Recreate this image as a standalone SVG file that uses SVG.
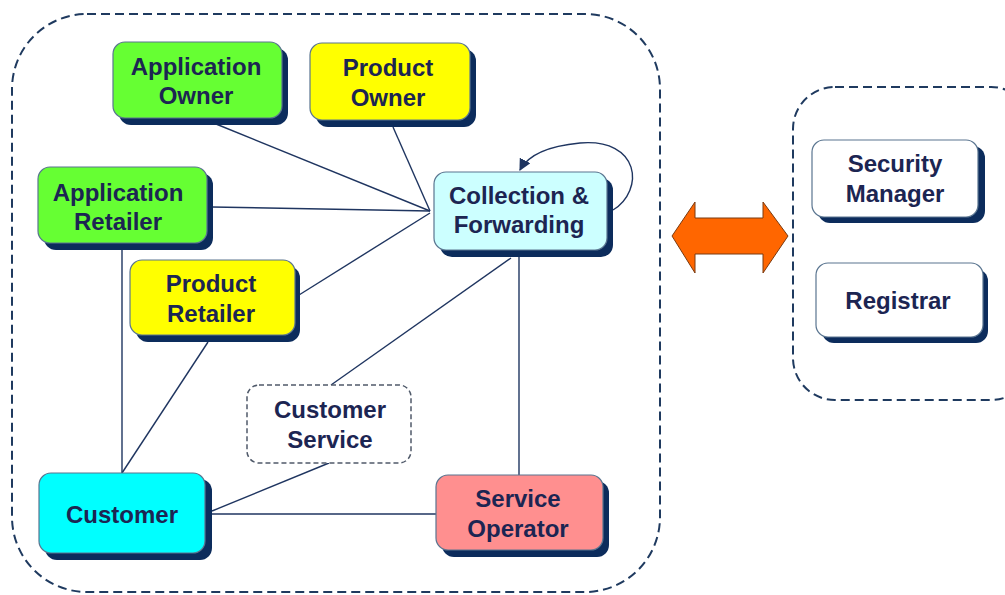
<svg xmlns="http://www.w3.org/2000/svg" width="1005" height="595" viewBox="0 0 1005 595">
<defs>
<style>
.sh{fill:#0C2C5C}
.bx{stroke:#5A7590;stroke-width:1.2}
.t{font-family:"Liberation Sans",Arial,sans-serif;font-size:24px;font-weight:bold;fill:#1C2552;text-anchor:middle}
.cn{fill:none;stroke:#1F3560;stroke-width:1.4}
.cont{fill:none;stroke:#1F3A5F;stroke-width:2;stroke-dasharray:9 5}
</style>
<marker id="ah" viewBox="0 0 10 10" refX="9" refY="5" markerWidth="12" markerHeight="12" orient="auto" markerUnits="userSpaceOnUse">
<path d="M0,0 L10,5 L0,10 z" fill="#1F3560"/>
</marker>
</defs>
<rect width="1005" height="595" fill="#FFFFFF"/>
<g id="containers">
<rect class="cont" x="12" y="14" width="648" height="578" rx="75" ry="75"/>
<rect class="cont" x="793" y="87" width="240" height="313" rx="42" ry="42"/>
</g>
<g id="connectors">
<line class="cn" x1="216" y1="124" x2="430" y2="211"/>
<line class="cn" x1="393" y1="127" x2="430" y2="211"/>
<line class="cn" x1="212" y1="207" x2="430" y2="211"/>
<line class="cn" x1="299" y1="295" x2="430" y2="213"/>
<line class="cn" x1="511" y1="258" x2="331" y2="385"/>
<line class="cn" x1="519" y1="257" x2="519" y2="475"/>
<line class="cn" x1="122" y1="250" x2="122" y2="473"/>
<line class="cn" x1="208" y1="342" x2="122" y2="473"/>
<line class="cn" x1="329" y1="463" x2="212" y2="511"/>
<line class="cn" x1="212" y1="514" x2="436" y2="514"/>
<path class="cn" d="M613,210 C645,190 640,138 580,143 C548,146 528,155 520,170" marker-end="url(#ah)"/>
</g>
<g id="app-owner">
<rect class="sh" x="119" y="48" width="169" height="77" rx="12"/>
<rect class="bx" x="113" y="42" width="169" height="76" rx="12" fill="#66FF33"/>
<text class="t" x="196" y="75">Application</text>
<text class="t" x="196" y="104">Owner</text>
</g>
<g id="product-owner">
<rect class="sh" x="316" y="49" width="160" height="78" rx="12"/>
<rect class="bx" x="310" y="43" width="160" height="77" rx="12" fill="#FFFF00"/>
<text class="t" x="388" y="76">Product</text>
<text class="t" x="388" y="106">Owner</text>
</g>
<g id="app-retailer">
<rect class="sh" x="44" y="173" width="169" height="77" rx="12"/>
<rect class="bx" x="38" y="167" width="169" height="76" rx="12" fill="#66FF33"/>
<text class="t" x="118" y="201">Application</text>
<text class="t" x="118" y="230">Retailer</text>
</g>
<g id="collection-forwarding">
<rect class="sh" x="440" y="178" width="173" height="79" rx="12"/>
<rect class="bx" x="434" y="172" width="173" height="78" rx="12" fill="#CCFFFF"/>
<text class="t" x="519" y="204">Collection &amp;</text>
<text class="t" x="519" y="233">Forwarding</text>
</g>
<g id="product-retailer">
<rect class="sh" x="136" y="266" width="164" height="76" rx="12"/>
<rect class="bx" x="130" y="260" width="165" height="75" rx="12" fill="#FFFF00"/>
<text class="t" x="211" y="292">Product</text>
<text class="t" x="211" y="322">Retailer</text>
</g>
<g id="customer-service">
<rect x="247" y="385" width="164" height="78" rx="12" fill="#FFFFFF" stroke="#505A6A" stroke-width="1.5" stroke-dasharray="5 3"/>
<text class="t" x="330" y="418">Customer</text>
<text class="t" x="330" y="448">Service</text>
</g>
<g id="customer">
<rect class="sh" x="45" y="479" width="167" height="81" rx="12"/>
<rect class="bx" x="39" y="473" width="166" height="80" rx="12" fill="#00FFFF"/>
<text class="t" x="122" y="523">Customer</text>
</g>
<g id="service-operator">
<rect class="sh" x="442" y="481" width="167" height="76" rx="12"/>
<rect class="bx" x="436" y="475" width="167" height="75" rx="12" fill="#FF8F8F"/>
<text class="t" x="518" y="507">Service</text>
<text class="t" x="518" y="537">Operator</text>
</g>
<g id="exchange-arrow">
<polygon points="672,236 695,202 695,218 763,218 763,202 788,236 763,273 763,254 695,254 695,273" fill="#FF6600" stroke="#7A3A10" stroke-width="1"/>
</g>
<g id="security-manager">
<rect class="sh" x="818" y="146" width="167" height="77" rx="12"/>
<rect class="bx" x="812" y="140" width="166" height="77" rx="12" fill="#FFFFFF"/>
<text class="t" x="895" y="172">Security</text>
<text class="t" x="895" y="202">Manager</text>
</g>
<g id="registrar">
<rect class="sh" x="822" y="269" width="166" height="74" rx="12"/>
<rect class="bx" x="816" y="263" width="167" height="74" rx="12" fill="#FFFFFF"/>
<text class="t" x="898" y="309">Registrar</text>
</g>
</svg>
